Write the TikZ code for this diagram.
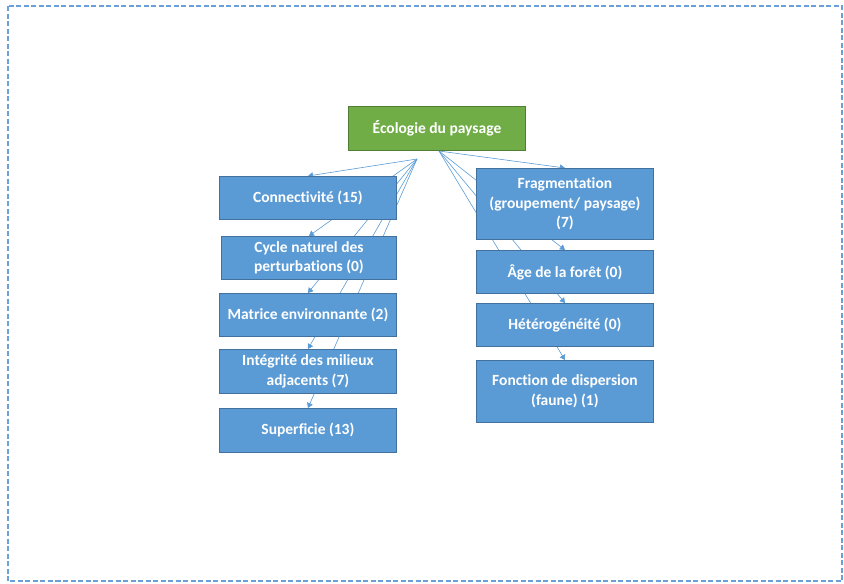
\documentclass[tikz,border=0pt]{standalone}
\usepackage{fontspec}
\setmainfont[Ligatures=NoCommon]{Carlito}
\usetikzlibrary{arrows.meta}
\pgfdeclarelayer{back}
\pgfsetlayers{back,main}
\definecolor{boxblue}{HTML}{5B9BD5}
\definecolor{boxedge}{HTML}{41719C}
\definecolor{rootgreen}{HTML}{70AD47}
\definecolor{rootedge}{HTML}{507E32}
\definecolor{frameblue}{HTML}{6A9FD8}
\tikzset{
  topic/.style={draw=boxedge, line width=0.9pt, fill=boxblue, text=white,
    font=\bfseries\fontsize{15.5}{19.5}\selectfont, align=center,
    minimum width=177pt, inner sep=0pt, anchor=north west},
  rootbox/.style={topic, draw=rootedge, fill=rootgreen},
  link/.style={draw=boxblue, line width=0.6pt,
    -{Triangle[length=5pt,width=6pt]}},
}
\begin{document}
\begin{tikzpicture}[x=1pt,y=-1pt]
  \useasboundingbox (0,0) rectangle (844,584);
  \draw[frameblue, line width=1.5pt, dash pattern=on 5pt off 2.5pt]
    (8,6) rectangle (842,581);

  \node[rootbox, minimum height=44pt] (root) at (348,106) {Écologie du paysage};

  \node[topic, minimum height=43pt] (con) at (219,176) {Connectivité (15)};
  \node[topic, minimum width=175pt, minimum height=43pt] (cyc) at (221,236)
    {Cycle naturel des\\perturbations (0)};
  \node[topic, minimum height=43pt] (mat) at (219,293) {Matrice environnante (2)};
  \node[topic, minimum height=44pt] (int) at (219,349)
    {Intégrité des milieux\\adjacents (7)};
  \node[topic, minimum height=44pt] (sup) at (219,408) {Superficie (13)};

  \node[topic, minimum height=71pt] (fra) at (476,168)
    {Fragmentation\\(groupement/ paysage)\\(7)};
  \node[topic, minimum height=43pt] (age) at (476,250) {Âge de la forêt (0)};
  \node[topic, minimum height=43pt] (het) at (476,303) {Hétérogénéité (0)};
  \node[topic, minimum height=62pt] (fon) at (476,360)
    {Fonction de dispersion\\(faune) (1)};

  \coordinate (hubL) at (417,159);
  \coordinate (hubR) at (439,151);

  \begin{pgfonlayer}{back}
    \foreach \t in {con,cyc,mat,int,sup}
      \draw[link] (hubL) -- (\t.north);
    \foreach \t in {fra,age,het,fon}
      \draw[link] (hubR) -- (\t.north);
  \end{pgfonlayer}
\end{tikzpicture}
\end{document}
